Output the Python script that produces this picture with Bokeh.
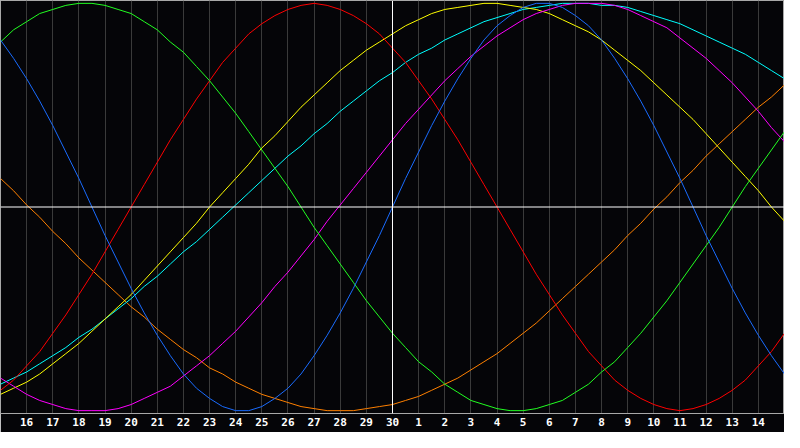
"""
Biorhythm style chart: seven cycles drawn over a 30 day window, today in the middle.
"""
from bokeh.plotting import figure
from bokeh.models import Span, FixedTicker, Range1d
from bokeh.embed import file_html
from bokeh.resources import INLINE

# day labels under each grid line (window runs from the 15th to the 15th)
day_labels = ["16", "17", "18", "19", "20", "21", "22", "23", "24", "25", "26", "27",
              "28", "29", "30", "1", "2", "3", "4", "5", "6", "7", "8", "9", "10",
              "11", "12", "13", "14"]
label_pos = list(range(1, 30))           # grid line positions, 15 = today
steps = [i / 2 for i in range(61)]       # half-day readings, 0 = left edge, 30 = right edge

# cycle values in percent, read every half day
physical = [82, 73, 63, 52, 40, 27, 14, 0, -14, -27, -40, -52, -63, -73, -82, -89,
            -94, -98, -100, -100, -98, -94, -89, -82, -73, -63, -52, -40, -27, -14,
            0, 14, 27, 40, 52, 63, 73, 82, 89, 94, 98, 100, 100, 98, 94, 89,
            82, 73, 63, 52, 40, 27, 14, 0, -14, -27, -40, -52, -63, -73, -82]
emotional = [-90, -85, -78, -71, -62, -53, -43, -33, -22, -11, 0, 11, 22, 33, 43, 53,
             62, 71, 78, 85, 90, 94, 97, 99, 100, 99, 97, 94, 90, 85,
             78, 71, 62, 53, 43, 33, 22, 11, 0, -11, -22, -33, -43, -53, -62, -71,
             -78, -85, -90, -94, -97, -99, -100, -99, -97, -94, -90, -85, -78, -71, -62]
intellectual = [81, 87, 91, 95, 97, 99, 100, 100, 99, 97, 95, 91, 87, 81, 76, 69,
                62, 54, 46, 37, 28, 19, 10, 0, -10, -19, -28, -37, -46, -54,
                -62, -69, -76, -81, -87, -91, -95, -97, -99, -100, -100, -99, -97, -95, -91, -87,
                -81, -76, -69, -62, -54, -46, -37, -28, -19, -10, 0, 10, 19, 28, 37]
intuitive = [-84, -88, -92, -95, -97, -99, -100, -100, -100, -99, -97, -94, -91, -88, -83, -78,
             -73, -67, -61, -54, -47, -39, -32, -24, -16, -7, 1, 9, 17, 25,
             33, 41, 48, 55, 62, 68, 74, 79, 84, 88, 92, 95, 97, 99, 100, 100,
             100, 99, 97, 94, 91, 88, 83, 78, 73, 67, 61, 54, 47, 39, 32]
aesthetic = [-92, -89, -86, -82, -77, -72, -67, -61, -55, -49, -43, -36, -29, -22, -15, -8,
             0, 7, 14, 21, 29, 35, 42, 49, 55, 61, 67, 72, 77, 81,
             85, 89, 92, 95, 97, 98, 99, 100, 100, 99, 98, 97, 95, 92, 89, 86,
             82, 77, 72, 67, 61, 55, 49, 43, 36, 29, 22, 15, 8, 0, -7]
spiritual = [-87, -84, -81, -77, -73, -69, -64, -60, -55, -50, -45, -39, -34, -28, -22, -17,
             -11, -5, 1, 7, 13, 19, 25, 30, 36, 41, 47, 52, 57, 62,
             66, 71, 75, 78, 82, 85, 88, 91, 93, 95, 97, 98, 99, 100, 100, 100,
             99, 99, 98, 96, 94, 92, 90, 87, 84, 81, 78, 75, 71, 67, 63]
awareness = [14, 8, 1, -5, -12, -18, -25, -31, -37, -43, -49, -54, -60, -65, -70, -74,
             -79, -82, -86, -89, -92, -94, -96, -98, -99, -100, -100, -100, -99, -98,
             -97, -95, -93, -90, -87, -84, -80, -76, -72, -67, -62, -57, -51, -45, -39, -33,
             -27, -21, -14, -8, -1, 5, 12, 18, 25, 31, 37, 43, 49, 54, 60]

series = [
    (awareness, "#ff8000"),
    (spiritual, "#00ffff"),
    (aesthetic, "#ffff00"),
    (intuitive, "#ff00ff"),
    (emotional, "#ff0000"),
    (intellectual, "#22ff22"),
    (physical, "#1a6cff"),
]

BG = "#050508"

p = figure(width=784, height=432, output_backend="svg", toolbar_location=None,
           x_range=Range1d(0, 30), y_range=Range1d(-101.4, 101.4),
           background_fill_color=BG, border_fill_color=BG,
           min_border_left=0, min_border_right=0, min_border_top=0, min_border_bottom=19)
p.outline_line_color = "#a8a8a8"
p.outline_line_width = 1

# day grid
p.xgrid.ticker = FixedTicker(ticks=label_pos)
p.xgrid.grid_line_color = "#3a3a3a"
p.ygrid.grid_line_color = None
p.yaxis.visible = False

ax = p.xaxis[0]
ax.ticker = FixedTicker(ticks=label_pos)
ax.major_label_overrides = {d: lab for d, lab in zip(label_pos, day_labels)}
ax.major_tick_in = 0
ax.major_tick_out = 0
ax.minor_tick_in = 0
ax.minor_tick_out = 0
ax.axis_line_color = "#a8a8a8"
ax.major_label_standoff = 4
ax.major_label_text_color = "white"
ax.major_label_text_font = "DejaVu Sans Mono"
ax.major_label_text_font_style = "bold"
ax.major_label_text_font_size = "11px"

# today and the zero line
p.add_layout(Span(location=15, dimension="height", line_color="white", line_width=1))
p.add_layout(Span(location=0, dimension="width", line_color="white", line_width=1))

for values, color in series:
    p.line(steps, values, line_color=color, line_width=1)

open("out.html", "w").write(file_html(p, INLINE))
